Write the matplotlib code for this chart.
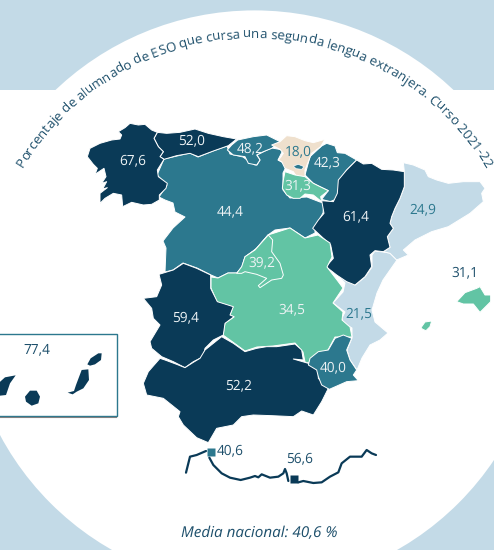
import matplotlib
matplotlib.use("Agg")
import math
import matplotlib.pyplot as plt
from matplotlib.font_manager import FontProperties
from matplotlib.patches import Circle, Polygon, Rectangle
from matplotlib.textpath import text_to_path

W, H = 494, 550
DARK, TEAL, GREEN, LIGHT, BEIGE = "#0a3a57", "#2c788e", "#62c4a4", "#c3dae7", "#efe0cd"
TEXT = "#1d4f6b"
plt.rcParams['font.family'] = ['Open Sans', 'DejaVu Sans']
plt.rcParams['text.hinting'] = 'no_hinting'


def crop(x0, y0, pts):
    return [(x0 + x / 3, y0 + y / 3) for x, y in pts]


title = "Porcentaje de alumnado de ESO que cursa una segunda lengua extranjera. Curso 2021-22"
note = "Media nacional: 40,6 %"

names = ["Galicia", "Asturias", "Cantabria", "Pais Vasco", "Navarra", "La Rioja", "Castilla y Leon",
         "Aragon", "Cataluna", "Madrid", "Castilla-La Mancha", "C. Valenciana", "Extremadura",
         "Andalucia", "Murcia", "Baleares", "Canarias", "Ceuta", "Melilla"]
values = [67.6, 52.0, 48.2, 18.0, 42.3, 31.3, 44.4, 61.4, 24.9, 39.2, 34.5, 21.5, 59.4, 52.2, 40.0,
          31.1, 77.4, 40.6, 56.6]
label_xy = [(133, 161), (192, 141), (250, 149), (298, 152), (327, 163), (298, 186), (230, 212),
            (356, 217), (423, 210), (262, 263), (292, 310), (359, 314), (186, 318), (239, 386),
            (333, 368), (465, 273), (37, 350), (230, 451), (300, 459)]

galicia = crop(80, 115, [(115, 50), (135, 38), (150, 25), (175, 30), (195, 28), (215, 45), (232, 52), (222, 70),
                         (235, 95), (250, 110), (240, 125), (252, 133), (232, 165), (235, 185), (262, 205),
                         (258, 220), (238, 240), (238, 255), (215, 268), (190, 270), (155, 262), (128, 275),
                         (125, 240), (100, 235), (75, 250), (60, 265), (60, 235), (82, 218), (68, 222), (80, 200),
                         (65, 205), (78, 185), (72, 160), (45, 178), (52, 160), (40, 148), (22, 125), (30, 100),
                         (60, 85), (95, 75), (120, 72), (125, 60)])
asturias = crop(80, 115, [(232, 52), (260, 55), (300, 52), (345, 42), (385, 55), (430, 65), (470, 72), (445, 92),
                          (400, 108), (355, 125), (330, 115), (290, 122), (252, 133), (240, 125), (250, 110),
                          (235, 95), (222, 70)])
cantabria = crop(0, 0, [(713, 420), (760, 410), (800, 405), (840, 425), (815, 445), (790, 455), (770, 465), (780, 480),
                        (770, 495), (745, 490), (735, 470), (700, 465), (682, 450), (695, 435)])
pais_vasco = crop(230, 120, [(125, 75), (150, 65), (170, 47), (195, 50), (225, 62), (250, 68), (285, 58), (272, 80),
                             (245, 100), (225, 150), (225, 170), (200, 170), (190, 155), (165, 145), (155, 125),
                             (145, 120), (152, 112), (160, 100), (150, 88)])
trevino = crop(230, 120, [(190, 138), (205, 133), (222, 140), (215, 148), (198, 146)])
navarra = crop(230, 120, [(275, 78), (290, 70), (315, 78), (322, 98), (345, 100), (380, 120), (350, 150), (332, 175),
                          (325, 210), (325, 235), (300, 245), (275, 238), (295, 212), (270, 200), (250, 190),
                          (225, 165), (240, 110)])
rioja = crop(230, 120, [(165, 155), (195, 165), (225, 170), (250, 190), (270, 200), (295, 212), (272, 230), (275, 245),
                        (250, 225), (225, 222), (210, 235), (190, 235), (170, 225), (157, 205), (160, 180)])
castilla_leon = [(164, 159), (177, 156), (190, 153), (198, 157), (213, 151), (227, 146), (230, 154), (243, 157),
                 (250, 162), (255, 165), (257, 165), (260, 160), (257, 155), (267, 150), (272, 148), (283, 150),
                 (278, 160), (287, 165), (283, 173), (283, 190), (290, 198), (307, 197), (320, 202), (324, 203),
                 (323, 213), (315, 227), (315, 233), (305, 238), (290, 228), (275, 230), (268, 235), (257, 248),
                 (245, 257), (242, 267), (237, 273), (228, 273), (218, 278), (211, 275), (197, 268), (183, 263),
                 (173, 270), (165, 272), (166, 248), (163, 241), (173, 228), (185, 217), (175, 212), (173, 203),
                 (165, 200), (159, 197), (167, 185), (157, 175)]
aragon = crop(300, 160, [(170, 0), (190, 12), (215, 10), (245, 28), (280, 30), (313, 35), (313, 80), (300, 115),
                         (285, 145), (275, 170), (270, 190), (280, 205), (262, 230), (270, 262), (250, 275), (225, 272),
                         (210, 285), (215, 320), (195, 350), (165, 375), (140, 365), (110, 345), (78, 320), (100, 295),
                         (92, 255), (65, 230), (38, 205), (55, 180), (72, 160), (65, 122), (100, 125), (112, 100),
                         (115, 60), (140, 30)])
cataluna = crop(300, 160, [(310, 8), (340, 15), (375, 30), (385, 50), (410, 60), (445, 70), (490, 65), (540, 65),
                           (555, 85), (545, 100), (550, 125), (510, 160), (445, 200), (395, 215), (345, 240), (310, 270),
                           (325, 285), (290, 300), (270, 280), (250, 275), (270, 262), (262, 230), (280, 205), (270, 190),
                           (275, 170), (285, 145), (300, 115), (313, 80), (313, 35)])
valencia = [(372, 255), (375, 251), (383, 252), (390, 253), (397, 260), (383, 280), (377, 293), (372, 310), (375, 322),
            (388, 333), (380, 340), (370, 345), (362, 358), (357, 370), (350, 360), (347, 350), (352, 338), (352, 328),
            (343, 323), (342, 318), (345, 312), (333, 303), (343, 292), (345, 283), (337, 275), (342, 275), (355, 285),
            (365, 277), (372, 267)]
mancha = [(268, 235), (290, 228), (305, 238), (318, 235), (330, 243), (332, 257), (327, 267), (337, 280), (343, 288),
          (333, 303), (343, 312), (342, 320), (350, 327), (352, 337), (335, 337), (328, 350), (318, 355), (308, 363),
          (305, 362), (303, 352), (295, 343), (273, 346), (257, 347), (245, 351), (230, 340), (223, 335), (225, 323),
          (234, 317), (230, 315), (233, 307), (217, 302), (211, 288), (211, 277), (218, 278), (228, 273), (237, 273),
          (242, 267), (245, 257), (255, 250)]
madrid = crop(140, 225, [(385, 30), (398, 45), (395, 80), (420, 115), (430, 150), (425, 160), (395, 165), (360, 188),
                         (355, 182), (380, 160), (350, 148), (315, 140), (305, 145), (290, 145), (305, 125), (315, 95),
                         (345, 75)])
extremadura = crop(140, 225, [(57, 148), (100, 135), (130, 115), (170, 130), (212, 150), (212, 190), (232, 230),
                              (280, 245), (270, 270), (282, 275), (255, 295), (250, 330), (220, 345), (195, 370),
                              (190, 395), (160, 410), (135, 428), (100, 410), (65, 395), (35, 370), (30, 350), (60, 300),
                              (40, 280), (35, 250), (10, 220), (50, 215), (65, 180)])
andalucia = crop(0, 275, [(430, 325), (445, 290), (480, 250), (495, 255), (530, 268), (555, 278), (580, 262), (600, 250),
                          (615, 225), (665, 185), (700, 205), (735, 230), (770, 220), (800, 215), (830, 215), (885, 207),
                          (905, 225), (910, 255), (880, 252), (925, 265), (955, 285), (955, 310), (985, 340), (965, 380),
                          (940, 420), (905, 408), (880, 425), (815, 422), (760, 420), (725, 425), (700, 450), (650, 460),
                          (625, 503), (590, 488), (550, 450), (535, 425), (540, 410), (490, 370), (440, 360)])
murcia = crop(290, 280, [(60, 235), (85, 215), (115, 210), (135, 175), (160, 165), (185, 175), (170, 210), (180, 240),
                         (200, 270), (190, 285), (205, 302), (170, 305), (118, 328), (95, 315), (85, 290), (80, 270),
                         (55, 255)])
mallorca = crop(300, 160, [(470, 425), (495, 398), (530, 385), (540, 380), (555, 405), (572, 405), (572, 425),
                           (540, 457), (520, 432), (490, 432)])
ibiza = crop(290, 280, [(393, 143), (405, 126), (425, 123), (420, 140), (408, 152), (398, 148)])
lanzarote = crop(0, 325, [(262, 118), (272, 100), (295, 85), (305, 85), (303, 105), (285, 118), (270, 122)])
fuerteventura = crop(0, 325, [(245, 135), (265, 133), (267, 165), (250, 190), (230, 200), (218, 208), (203, 203),
                              (222, 198), (228, 180)])
gran_canaria = crop(0, 325, [(90, 197), (110, 197), (120, 215), (115, 235), (95, 242), (78, 230), (75, 215)])
tenerife = crop(0, 325, [(-5, 175), (15, 157), (47, 151), (30, 175), (18, 210), (0, 212), (-5, 205)])
coast_west = crop(0, 275, [(558, 593), (570, 545), (590, 540), (618, 528)])
coast_mid = crop(0, 275, [(628, 548), (640, 570), (665, 595), (690, 608), (722, 615), (750, 608), (765, 603), (775, 607),
                          (785, 598), (810, 608), (835, 605), (850, 595), (855, 582), (860, 595), (865, 618)])
coast_east = crop(0, 275, [(895, 622), (910, 618), (940, 624), (965, 622), (990, 605), (1015, 592), (1025, 565),
                           (1050, 545), (1065, 545), (1085, 545), (1100, 525), (1115, 535), (1128, 540)])
ceuta_xy = (210.5, 451.5)
melilla_xy = (293.5, 478.5)


def bin_colour(v):
    if v >= 50:
        return DARK
    if v >= 40:
        return TEAL
    if v >= 30:
        return GREEN
    if v >= 20:
        return LIGHT
    return BEIGE


val = dict(zip(names, values))

fig = plt.figure(figsize=(W / 100, H / 100), dpi=100)
ax = fig.add_axes([0, 0, 1, 1])
ax.set_xlim(0, W)
ax.set_ylim(H, 0)
ax.axis("off")

# background
ax.add_patch(Rectangle((0, 0), W, H, fc=LIGHT, ec="none"))
ax.add_patch(Rectangle((0, 90), W, 340, fc="white", ec="none"))
ax.add_patch(Circle((254.5, 299), 288.6, fc="white", ec="none"))

# regions, later ones sit on top of shared borders
order = [("Castilla y Leon", castilla_leon), ("Asturias", asturias), ("Galicia", galicia), ("Cantabria", cantabria),
         ("Navarra", navarra), ("Pais Vasco", pais_vasco), ("La Rioja", rioja), ("C. Valenciana", valencia),
         ("Cataluna", cataluna), ("Aragon", aragon), ("Castilla-La Mancha", mancha), ("Madrid", madrid),
         ("Extremadura", extremadura), ("Andalucia", andalucia), ("Murcia", murcia), ("Baleares", mallorca),
         ("Baleares", ibiza)]
for name, pts in order:
    ax.add_patch(Polygon(pts, closed=True, fc=bin_colour(val[name]), ec="white", lw=0.7, joinstyle="round"))
ax.add_patch(Polygon(trevino, closed=True, fc=bin_colour(val["Castilla y Leon"]), ec="white", lw=0.5))

# canary islands inset
ax.add_patch(Rectangle((-5, 333.5), 121.5, 82.5, fc="white", ec=TEAL, lw=1.0))
ax.plot([0, 116], [416.6, 416.6], color="#808080", lw=0.8)
for pts in [lanzarote, fuerteventura, gran_canaria, tenerife]:
    ax.add_patch(Polygon(pts, closed=True, fc=bin_colour(val["Canarias"]), ec="none"))

# north africa coast
for pts in [coast_west, coast_mid, coast_east]:
    ax.plot(*zip(*pts), color=DARK, lw=1.6, solid_capstyle="round")
ax.plot(*ceuta_xy, "s", ms=5.2, color=bin_colour(val["Ceuta"]), mec="none")
ax.plot(*melilla_xy, "s", ms=5.2, color=bin_colour(val["Melilla"]), mec="none")

# value labels
for name, (x, y) in zip(names, label_xy):
    v = val[name]
    if name in ("Baleares", "Canarias", "Ceuta", "Melilla"):
        c = TEXT
    elif bin_colour(v) in (LIGHT, BEIGE):
        c = TEAL
    else:
        c = "#eef3f5"
    ax.text(x, y, f"{v:.1f}".replace(".", ","), ha="center", va="center", fontsize=9.8, color=c)

# curved title, one glyph at a time
prop = FontProperties(family="Open Sans", size=9.55)


def advance(s):
    return text_to_path.get_text_width_height_descent(s + "|", prop, False)[0] \
        - text_to_path.get_text_width_height_descent("|", prop, False)[0]


cx, cy, r = 254, 309, 271
scale = 100 / 72  # points to pixels
total = advance(title) * scale
for i, ch in enumerate(title):
    mid = (advance(title[:i]) + advance(ch) / 2) * scale
    theta = (mid - total / 2) / r
    ax.text(cx + r * math.sin(theta), cy - r * math.cos(theta), ch, fontproperties=prop, color=TEXT,
            rotation=-math.degrees(theta), rotation_mode="anchor", ha="center", va="baseline")

ax.text(259, 533, note, ha="center", va="center", fontsize=11, style="italic", color=TEXT)

fig.savefig("out.png", dpi=100)
